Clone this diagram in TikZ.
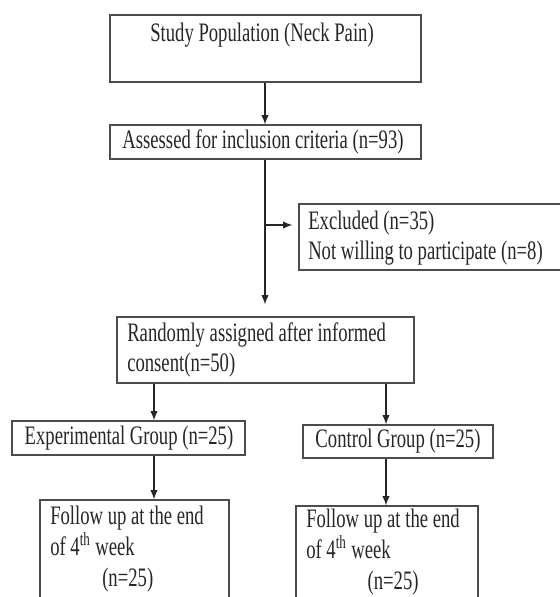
\documentclass[tikz,border=0pt]{standalone}
\usepackage{fontspec}
\setmainfont{Liberation Serif}[FakeStretch=0.7]
\usetikzlibrary{arrows.meta}
\newcommand\pxbox[5]{\node[box, minimum width={(#4-#2)*0.75pt}, minimum height={(#5-#3)*0.75pt}] (#1) at ({(#2+#4)/2},{(#3+#5)/2}) {};}
\begin{document}
\begin{tikzpicture}[x=0.75pt,y=-0.75pt,
  box/.style={draw=black!70, line width=0.9pt, inner sep=0pt, fill=white},
  txt/.style={inner sep=0pt, text=black!85, font=\fontsize{20}{23}\selectfont, align=left},
  arr/.style={draw=black!85, line width=0.9pt, -{Latex[length=7pt,width=5.5pt]}}]
\useasboundingbox (0,0) rectangle (560,597);
\clip (0,0) rectangle (560,597);
% boxes
\pxbox{b1}{110}{15}{421}{82}
\pxbox{b2}{110}{125}{421}{159}
\pxbox{excl}{299}{204}{580}{270}
\pxbox{b3}{117}{317}{414}{383}
\pxbox{exp}{12}{421}{245}{455}
\pxbox{ctl}{303}{425}{493}{458}
\pxbox{f1}{40}{500}{229}{620}
\pxbox{f2}{296}{506}{478}{620}
% texts
\node[txt] (t1) at (262,35) {Study Population (Neck Pain)};
\node[txt] (t2) at (263,142) {Assessed for inclusion criteria (n=93)};
\node[txt, anchor=west] (t3) at (308,238) {Excluded (n=35)\\Not willing to participate (n=8)};
\node[txt, anchor=west] (t4) at (127,350) {Randomly assigned after informed\\consent(n=50)};
\node[txt] (t5) at (129,438) {Experimental Group (n=25)};
\node[txt] (t6) at (398,441) {Control Group (n=25)};
\node[txt, anchor=north west] (t7) at (50,506) {Follow up at the end\\of 4\textsuperscript{th} week\\\hspace*{39pt}(n=25)};
\node[txt, anchor=north west] (t8) at (306,509) {Follow up at the end\\of 4\textsuperscript{th} week\\\hspace*{46pt}(n=25)};
% connectors
\coordinate (cm) at (265,0);
\coordinate (cl) at (154,0);
\coordinate (cr) at (386,0);
\coordinate (j) at (265,225);
\draw[arr] (b1.south -| cm) -- (b2.north -| cm);
\draw[arr, shorten >=9pt] (b2.south -| cm) -- (b3.north -| cm);
\draw[arr, shorten >=4.5pt] (j) -- (j -| excl.west);
\draw[arr] (b3.south -| cl) -- (exp.north -| cl);
\draw[arr] (b3.south -| cr) -- (ctl.north -| cr);
\draw[arr] (exp.south -| cl) -- (f1.north -| cl);
\draw[arr] (ctl.south -| cr) -- (f2.north -| cr);
\end{tikzpicture}
\end{document}
